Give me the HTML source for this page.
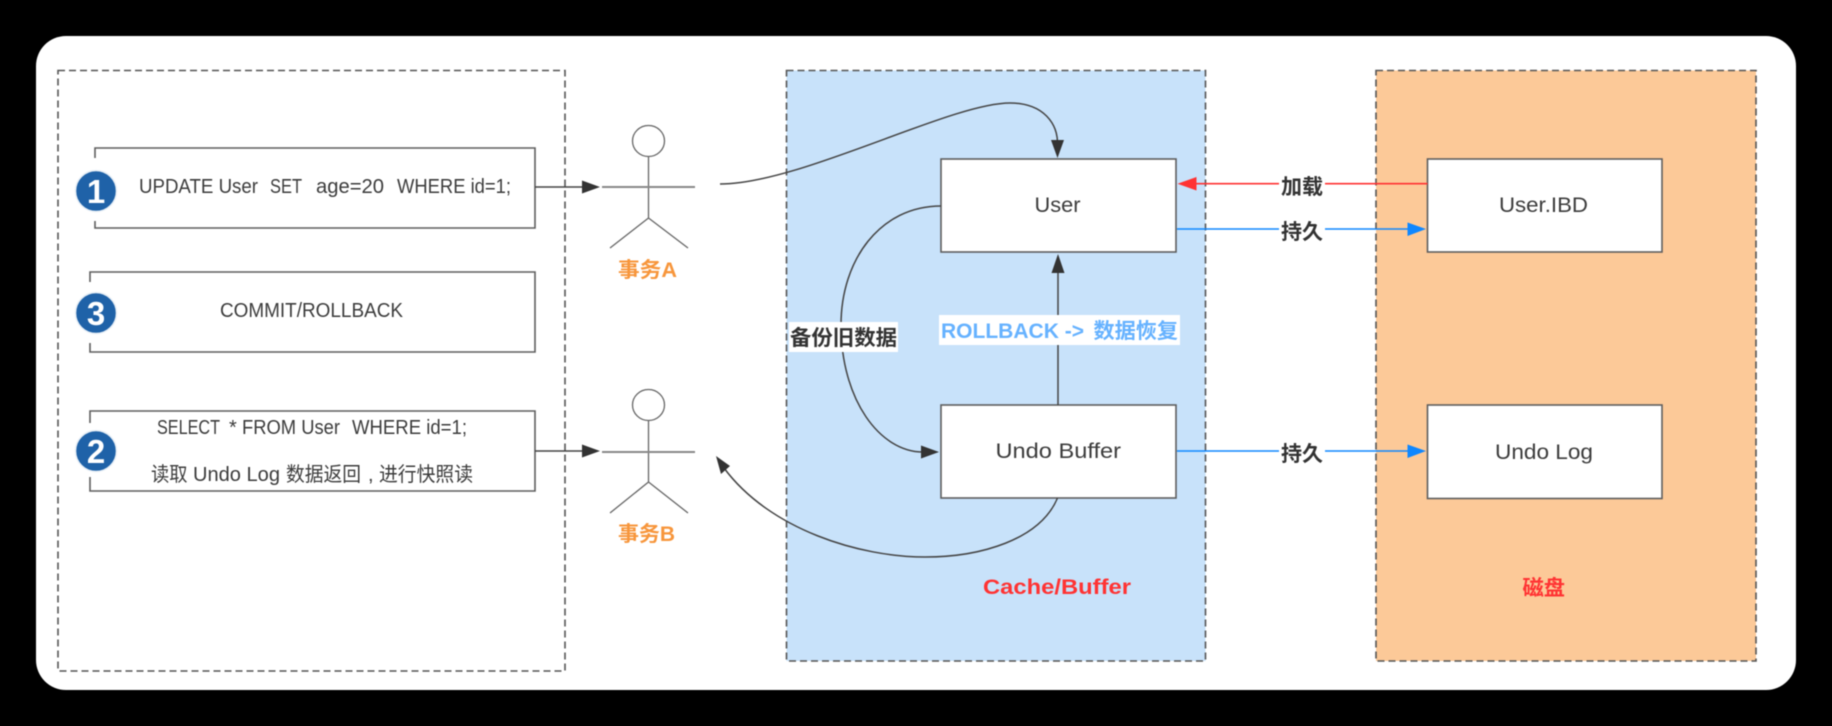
<!DOCTYPE html>
<html><head><meta charset="utf-8"><style>
html,body{margin:0;padding:0;background:#000;width:1832px;height:726px;overflow:hidden}
svg{display:block;filter:blur(.6px)}
text{font-family:"Liberation Sans","Noto Sans CJK SC",sans-serif;white-space:pre}
.t{font-size:20px;fill:#3c3c3c}
.n{font-size:21px;fill:#3c3c3c}
.b{font-size:21px;font-weight:700;fill:#333}
.r{font-size:21px;font-weight:700;fill:#ff3333}
.o{font-size:21px;font-weight:700;fill:#f7963c}
.bl{font-size:21px;font-weight:700;fill:#66b2ff}
.d{font-size:33px;font-weight:700;fill:#fff;text-anchor:middle}
.box{fill:#fff;stroke:#5e5e5e;stroke-width:1.6}
.ln{fill:none;stroke:#444;stroke-width:1.5}
.dash{stroke:#555;stroke-width:1.6;stroke-dasharray:7 4}
.act{fill:none;stroke:#666;stroke-width:1.3}
</style></head><body>
<svg width="1832" height="726" viewBox="0 0 1832 726" xmlns="http://www.w3.org/2000/svg">
<rect width="1832" height="726" fill="#000"/>
<rect x="36" y="36" width="1760" height="654" rx="30" fill="#fff"/>

<!-- containers -->
<rect class="dash" x="58" y="70.5" width="507" height="600.5" fill="#fff"/>
<rect class="dash" x="786.5" y="70.5" width="419" height="590.5" fill="#c8e2fa"/>
<rect class="dash" x="1376" y="70.5" width="380" height="590.5" fill="#fcc998"/>

<!-- left boxes -->
<path d="M95 158V148H535V228H95V221" fill="none" stroke="#5e5e5e" stroke-width="1.6"/>
<path d="M90 282V272H535V352H90V343" fill="none" stroke="#5e5e5e" stroke-width="1.6"/>
<path d="M90 423V411H535V491H90V477" fill="none" stroke="#5e5e5e" stroke-width="1.6"/>

<circle cx="96" cy="191" r="20.5" fill="#1f62a8" stroke="#e8eff6" stroke-width="1.5"/>
<text class="d" x="96" y="203">1</text>
<circle cx="96" cy="313" r="20.5" fill="#1f62a8" stroke="#e8eff6" stroke-width="1.5"/>
<text class="d" x="96" y="325">3</text>
<circle cx="96" cy="451" r="20.5" fill="#1f62a8" stroke="#e8eff6" stroke-width="1.5"/>
<text class="d" x="96" y="463">2</text>

<text class="t" x="139" y="193" textLength="119" lengthAdjust="spacingAndGlyphs">UPDATE User</text>
<text class="t" x="270" y="193" textLength="32" lengthAdjust="spacingAndGlyphs">SET</text>
<text class="t" x="316" y="193" textLength="68" lengthAdjust="spacingAndGlyphs">age=20</text>
<text class="t" x="397" y="193" textLength="114" lengthAdjust="spacingAndGlyphs">WHERE id=1;</text>
<text class="t" x="220" y="317" textLength="183" lengthAdjust="spacingAndGlyphs">COMMIT/ROLLBACK</text>
<text class="t" x="157" y="434" textLength="63" lengthAdjust="spacingAndGlyphs">SELECT</text>
<text class="t" x="229" y="434">*</text>
<text class="t" x="242" y="434" textLength="98" lengthAdjust="spacingAndGlyphs">FROM User</text>
<text class="t" x="352" y="434" textLength="115" lengthAdjust="spacingAndGlyphs">WHERE id=1;</text>
<text class="t" x="151" y="481" textLength="36.500" lengthAdjust="spacingAndGlyphs">读取</text>
<text class="t" x="193" y="481" textLength="87" lengthAdjust="spacingAndGlyphs">Undo Log</text>
<text class="t" x="286" y="481" textLength="75" lengthAdjust="spacingAndGlyphs">数据返回</text>
<text class="t" x="368" y="481">,</text>
<text class="t" x="379" y="481" textLength="94" lengthAdjust="spacingAndGlyphs">进行快照读</text>

<!-- left arrows -->
<path class="ln" d="M535 187H584"/>
<path d="M600 187L582 180.500V193.500Z" fill="#333"/>
<path class="ln" d="M535 451H584"/>
<path d="M600 451L582 444.500V457.500Z" fill="#333"/>

<!-- actor A -->
<ellipse class="act" cx="648.500" cy="141" rx="16" ry="15.500"/>
<path class="act" d="M648.500 156.500V218M648.500 218L610 248M648.500 218L688 248"/>
<path d="M602 187H695" stroke="#888" stroke-width="2" fill="none"/>
<text class="o" x="618" y="277" textLength="59" lengthAdjust="spacingAndGlyphs">事务A</text>

<!-- actor B -->
<ellipse class="act" cx="648.500" cy="405" rx="16" ry="15.500"/>
<path class="act" d="M648.500 420.500V482M648.500 482L610 513M648.500 482L688 513"/>
<path d="M602 452H695" stroke="#888" stroke-width="2" fill="none"/>
<text class="o" x="618" y="541" textLength="57" lengthAdjust="spacingAndGlyphs">事务B</text>

<!-- inner boxes -->
<rect class="box" x="941" y="159" width="235" height="93"/>
<rect class="box" x="941" y="405" width="235" height="93"/>
<rect class="box" x="1427.500" y="159" width="234.500" height="93"/>
<rect class="box" x="1427.500" y="405" width="234.500" height="93.500"/>
<text class="n" x="1034.500" y="212" textLength="46" lengthAdjust="spacingAndGlyphs">User</text>
<text class="n" x="995.500" y="458" textLength="125.500" lengthAdjust="spacingAndGlyphs">Undo Buffer</text>
<text class="n" x="1499" y="212" textLength="89" lengthAdjust="spacingAndGlyphs">User.IBD</text>
<text class="n" x="1495" y="459" textLength="98" lengthAdjust="spacingAndGlyphs">Undo Log</text>

<!-- curves -->
<path class="ln" d="M720 184C800 184 950 103 1010 103C1045 103 1057 125 1057.500 142"/>
<path d="M1057.500 158L1051 140H1064Z" fill="#333"/>
<path class="ln" d="M941 206C880 206 841 260 841 325C841 400 880 452 923 452"/>
<path d="M939 452L921 445.500V458.500Z" fill="#333"/>
<path class="ln" d="M1058 405V270"/>
<path d="M1058 254L1051.500 273H1064.500Z" fill="#333"/>
<path class="ln" d="M1057.500 498C1040 540 980 557 925 557C860 557 770 530 724 468"/>
<path d="M716 456L730 466L721 474Z" fill="#333"/>

<!-- labels on curves -->
<rect x="789" y="322" width="109" height="30" fill="#fff"/>
<text class="b" x="790" y="345" textLength="107" lengthAdjust="spacingAndGlyphs">备份旧数据</text>
<rect x="939" y="315" width="241" height="30" fill="#fff"/>
<text class="bl" x="941" y="338" textLength="143" lengthAdjust="spacingAndGlyphs">ROLLBACK -&gt;</text>
<text class="bl" x="1093.500" y="338" textLength="84.500" lengthAdjust="spacingAndGlyphs">数据恢复</text>

<!-- right arrows -->
<path d="M1427.500 183.700H1194" stroke="#ff3333" stroke-width="1.6" fill="none"/>
<path d="M1177.500 183.700L1196.500 177V190.500Z" fill="#ff3333"/>
<path d="M1177 229H1410" stroke="#0f87ff" stroke-width="1.6" fill="none"/>
<path d="M1426 229L1407.500 222.500V236Z" fill="#0f87ff"/>
<path d="M1177 451H1410" stroke="#0f87ff" stroke-width="1.6" fill="none"/>
<path d="M1426 451L1407.500 444.500V458Z" fill="#0f87ff"/>

<rect x="1279" y="172" width="46" height="26" fill="#fff"/>
<rect x="1279" y="218" width="46" height="26" fill="#fff"/>
<rect x="1279" y="440" width="46" height="26" fill="#fff"/>
<text class="b" x="1281" y="194" textLength="42" lengthAdjust="spacingAndGlyphs">加载</text>
<text class="b" x="1281" y="239" textLength="42" lengthAdjust="spacingAndGlyphs">持久</text>
<text class="b" x="1281" y="461" textLength="42" lengthAdjust="spacingAndGlyphs">持久</text>

<text class="r" x="983" y="594" textLength="148" lengthAdjust="spacingAndGlyphs">Cache/Buffer</text>
<text class="r" x="1522.500" y="595" textLength="42.500" lengthAdjust="spacingAndGlyphs">磁盘</text>
</svg>
</body></html>
